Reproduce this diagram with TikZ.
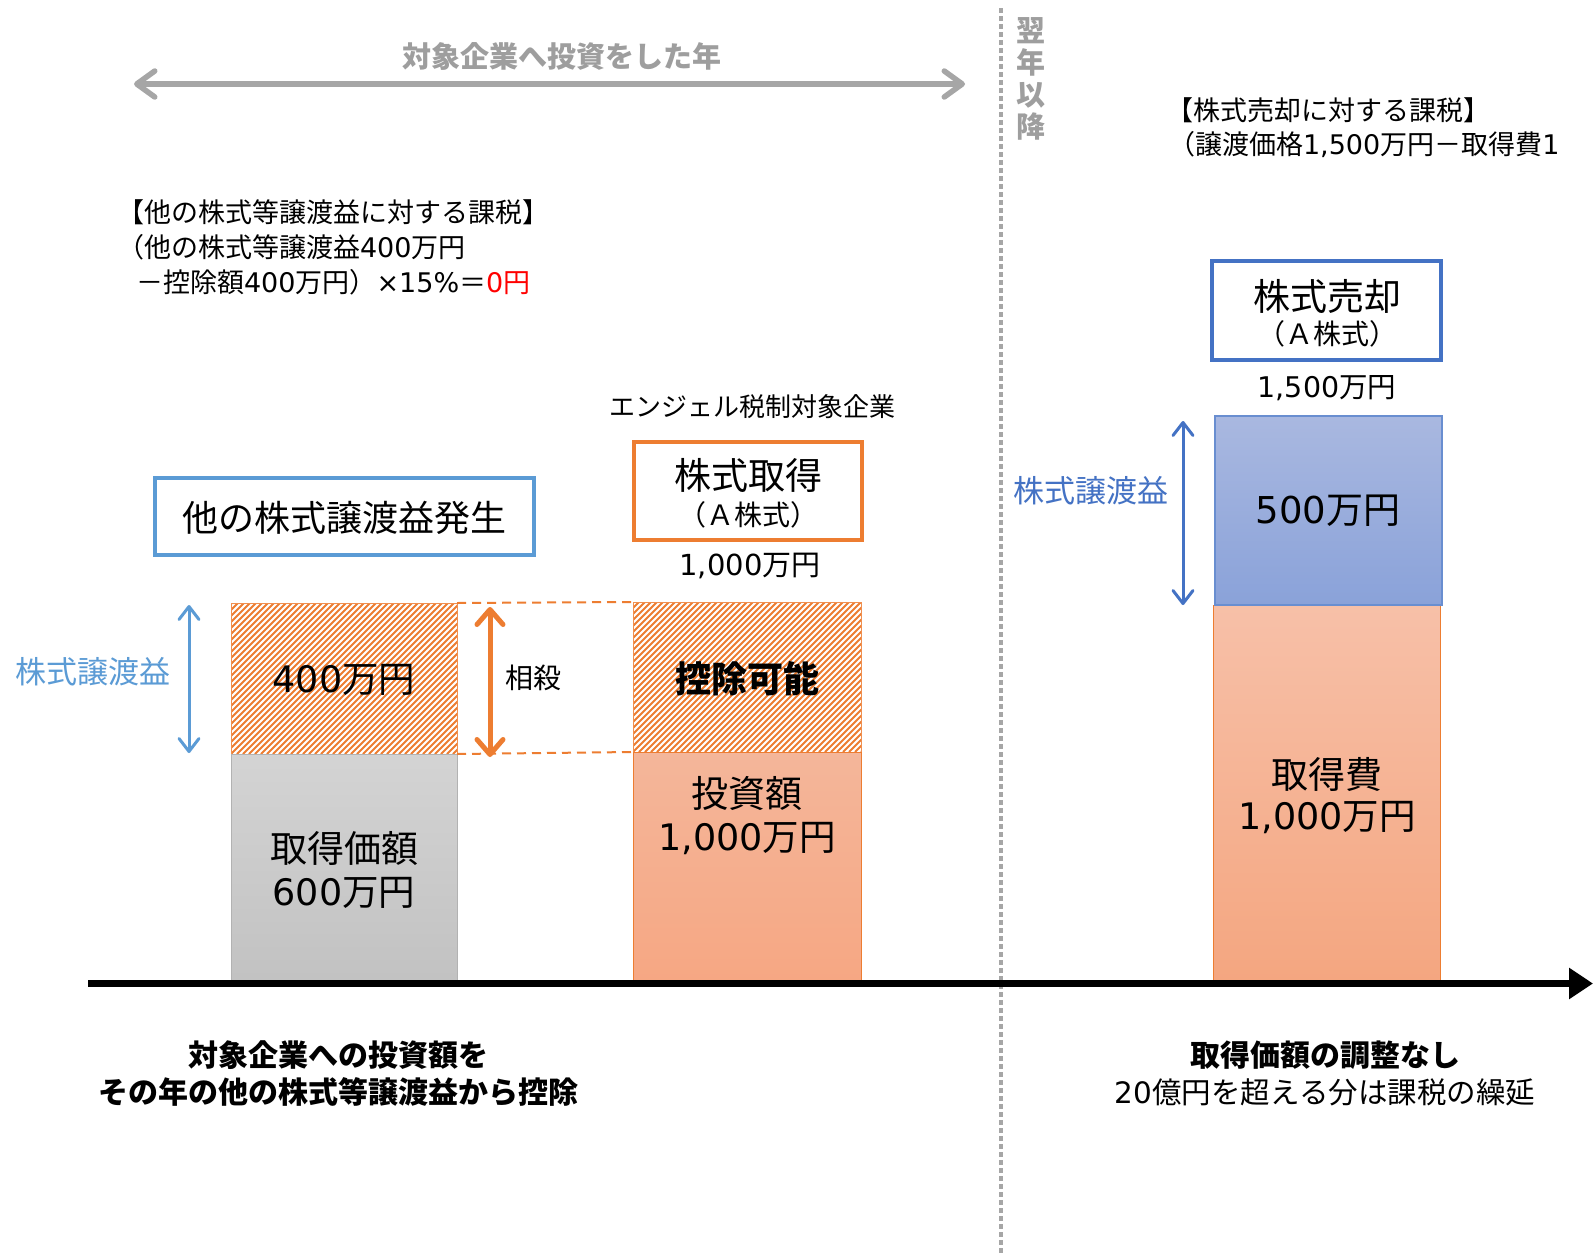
\documentclass[tikz,border=0pt]{standalone}
\usepackage{fontspec}
\setmainfont{Noto Sans CJK JP}
\newfontfamily\dvfont{DejaVu Sans}
\newcommand\dg[1]{{\dvfont #1}}
\usetikzlibrary{arrows.meta}
\definecolor{cOrange}{HTML}{ED7D31}
\definecolor{cBlue}{HTML}{5B9BD5}
\definecolor{cDBlue}{HTML}{4472C4}
\definecolor{cGray}{HTML}{A6A6A6}
\definecolor{cTGray}{HTML}{9E9E9E}
\definecolor{salTop}{HTML}{F4B69A}
\definecolor{salBot}{HTML}{F6A783}
\definecolor{salTopB}{HTML}{F7C0A8}
\definecolor{salBotB}{HTML}{F4A680}
\definecolor{bluTop}{HTML}{A9B8E0}
\definecolor{bluBot}{HTML}{8AA2D9}
\newcommand\fz[2]{\fontsize{#1pt}{#2pt}\selectfont}
\tikzset{
  lbl/.style={inner sep=0pt, outer sep=0pt},
  hatchbar/.style={inner sep=0pt, outer sep=0pt, fill=white, draw=cOrange!85, line width=1pt,
    path picture={
      \foreach \k in {-28,...,40}{
        \draw[cOrange, line width=2pt] ([xshift=\k*6pt]path picture bounding box.south west) -- ++(200pt,200pt);
      }}},
  graybar/.style={inner sep=0pt, outer sep=0pt, top color=black!17, bottom color=black!24, draw=black!30, line width=0.8pt},
  salmonbar/.style={inner sep=0pt, outer sep=0pt, top color=salTop, bottom color=salBot, draw=cOrange, line width=1pt},
  bluebar/.style={inner sep=0pt, outer sep=0pt, top color=bluTop, bottom color=bluBot, draw=cDBlue!80, line width=1.2pt},
  framebox/.style={inner sep=0pt, outer sep=0pt, fill=white, line width=4pt},
  dimarrow/.style={line width=3pt, arrows={Straight Barb[length=13pt,width=20pt,round]-Straight Barb[length=13pt,width=20pt,round]}},
  offarrow/.style={line width=5pt, cOrange, arrows={Straight Barb[length=15pt,width=26pt,round]-Straight Barb[length=15pt,width=26pt,round]}},
  yeararrow/.style={line width=5.5pt, cGray, arrows={Straight Barb[length=18pt,width=26pt,round]-Straight Barb[length=18pt,width=26pt,round]}},
  dashlink/.style={cOrange, line width=2pt, dash pattern=on 9pt off 6pt},
}
\begin{document}
\begin{tikzpicture}[x=1pt,y=-1pt]
\useasboundingbox (0,0) rectangle (1593,1253);
\fill[white] (0,0) rectangle (1593,1253);

% divider
\coordinate (divT) at (1001,8);
\coordinate (divB) at (1001,1253);
\draw[cGray, line width=4pt, dash pattern=on 5pt off 3pt] (divT) -- (divB);
\node[lbl, font=\fz{29}{32}\bfseries, text=cTGray, align=center] (yoku) at (1031,79) {翌\\年\\以\\降};

% top year arrow
\node[lbl, font=\fz{29}{34}\bfseries, text=cTGray] (title) at (562,56) {対象企業へ投資をした年};
\coordinate (yrL) at (134,84);
\coordinate (yrR) at (965,84);
\draw[yeararrow] (yrL) -- (yrR);

% left tax text
\node[lbl, anchor=west, font=\fz{27}{32}] (tax1) at (117,212) {【他の株式等譲渡益に対する課税】};
\node[lbl, anchor=west, font=\fz{27}{32}] (tax2) at (117,247) {（他の株式等譲渡益\dg{400}万円};
\node[lbl, anchor=west, font=\fz{27}{32}] (tax3) at (136,282) {－控除額\dg{400}万円）\dg{×15\%}＝{\color{red}\dg{0}円}};

% right tax text
\node[lbl, anchor=west, font=\fz{27}{32}] (rtax1) at (1166,110) {【株式売却に対する課税】};
\node[lbl, anchor=west, font=\fz{27}{32}] (rtax2) at (1168,145) {（譲渡価格\dg{1,500}万円－取得費\dg{1}};

% boxes
\node[framebox, draw=cBlue, minimum width=379pt, minimum height=77pt] (other) at (344.5,516.5) {};
\node[lbl, font=\fz{36}{40}] (otherT) at (344.5,518) {他の株式譲渡益発生};

\node[lbl, font=\fz{26}{30}] (angel) at (752,407) {エンジェル税制対象企業};
\node[framebox, draw=cOrange, minimum width=228pt, minimum height=98pt] (buy) at (748,491) {};
\node[lbl, font=\fz{37}{40}] (buyT) at (748,475) {株式取得};
\node[lbl, font=\fz{28}{30}] (buyS) at (748,515) {（Ａ株式）};
\node[lbl, font=\fz{29}{32}] (buyAmt) at (750,566) {\dg{1,000}万円};

\node[framebox, draw=cDBlue, minimum width=229pt, minimum height=99pt] (sale) at (1326.5,310.5) {};
\node[lbl, font=\fz{37}{40}] (saleT) at (1327,296) {株式売却};
\node[lbl, font=\fz{28}{30}] (saleS) at (1327,334) {（Ａ株式）};
\node[lbl, font=\fz{28.5}{32}] (saleAmt) at (1327,388) {\dg{1,500}万円};

% bars left
\node[hatchbar, minimum width=226pt, minimum height=151pt] (h1) at (344,678.5) {};
\node[graybar, minimum width=226pt, minimum height=227pt] (g1) at (344,867.5) {};
\node[lbl, font=\fz{36.5}{40}] (h1T) at (344,680) {\dg{400}万円};
\node[lbl, font=\fz{37}{40}] (g1T) at (344,848) {取得価額};
\node[lbl, font=\fz{36.5}{40}] (g1A) at (344,893) {\dg{600}万円};

% bars middle
\node[hatchbar, minimum width=228pt, minimum height=150pt] (h2) at (747,677) {};
\node[salmonbar, minimum width=228pt, minimum height=229pt] (s2) at (747,866.5) {};
\node[lbl, font=\fz{36}{40}\bfseries] (h2T) at (747,679) {控除可能};
\node[lbl, font=\fz{37}{40}] (s2T) at (747,793) {投資額};
\node[lbl, font=\fz{36.5}{40}] (s2A) at (747,839) {\dg{1,000}万円};

% offset links
\draw[dashlink] (h1.north east) -- (h2.north west);
\draw[dashlink] (h1.south east) -- (h2.south west);
\coordinate (offT) at (490,607);
\coordinate (offB) at (490,757);
\draw[offarrow] (offT) -- (offB);
\node[lbl, font=\fz{28}{32}] (sousai) at (533,678) {相殺};

% left gain arrow
\coordinate (lgT) at (189,605);
\coordinate (lgB) at (189,753);
\draw[dimarrow, cBlue] (lgT) -- (lgB);
\node[lbl, font=\fz{31}{34}, text=cBlue] (lgain) at (93,672) {株式譲渡益};

% right bars
\node[salmonbar, top color=salTopB, bottom color=salBotB, minimum width=227pt, minimum height=376pt] (s3) at (1326.5,793) {};
\node[bluebar, minimum width=227pt, minimum height=189pt] (b3) at (1328.5,510.5) {};
\node[lbl, font=\fz{37}{40}] (b3T) at (1328,511) {\dg{500}万円};
\node[lbl, font=\fz{37}{40}] (s3T) at (1327,774) {取得費};
\node[lbl, font=\fz{36.5}{40}] (s3A) at (1327,818) {\dg{1,000}万円};

\coordinate (rgT) at (1183,421);
\coordinate (rgB) at (1183,605);
\draw[dimarrow, cDBlue] (rgT) -- (rgB);
\node[lbl, font=\fz{31}{34}, text=cDBlue] (rgain) at (1091,491) {株式譲渡益};

% axis
\coordinate (axL) at (88,983.5);
\coordinate (axR) at (1593,983.5);
\draw[line width=6.5pt, -{Triangle[length=24pt,width=30pt]}] (axL) -- (axR);

% bottom notes
\node[lbl, font=\fz{30}{34}\bfseries] (nl1) at (338,1055) {対象企業への投資額を};
\node[lbl, font=\fz{30}{34}\bfseries] (nl2) at (338,1092) {その年の他の株式等譲渡益から控除};
\node[lbl, font=\fz{30}{34}\bfseries] (nr1) at (1325,1055) {取得価額の調整なし};
\node[lbl, font=\fz{29.5}{34}] (nr2) at (1325,1092) {\dg{20}億円を超える分は課税の繰延};
\end{tikzpicture}
\end{document}
